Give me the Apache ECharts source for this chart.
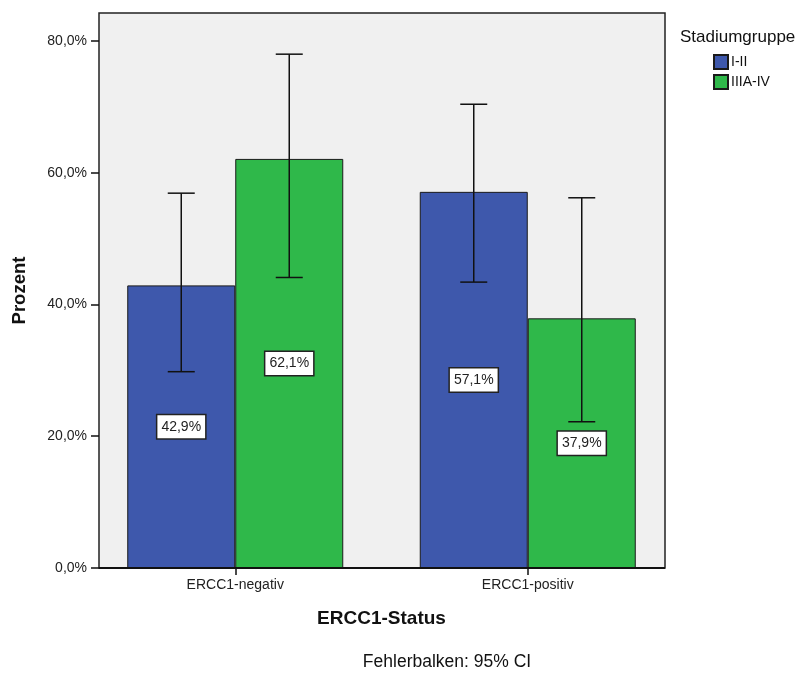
<!DOCTYPE html>
<html>
<head>
<meta charset="utf-8">
<script src="https://cdn.jsdelivr.net/npm/echarts@6/dist/echarts.min.js"></script>
<style>
html,body{margin:0;padding:0;background:#fff;}
#main{width:809px;height:673px;}
</style>
</head>
<body>
<div id="main"></div>
<script>
// Kategorien und Werte
var categories = ['ERCC1-negativ', 'ERCC1-positiv'];
var groupNames = ['I-II', 'IIIA-IV'];
var valuesI = [42.9, 57.1];
var valuesIII = [62.1, 37.9];
// 95% CI
var lowI = [29.8, 43.4];
var highI = [56.9, 70.4];
var lowIII = [44.1, 22.2];
var highIII = [78.0, 56.2];
var yTicks = [0, 20, 40, 60, 80];

var font = 'Liberation Sans, Arial, Helvetica, sans-serif';
var blue = '#3e58ac';
var green = '#2fb84a';

function fmt(v) {
    return v.toFixed(1).replace('.', ',') + '%';
}

function ciData(low, high) {
    var out = [];
    for (var i = 0; i < categories.length; i++) {
        out.push([i, low[i], high[i]]);
    }
    return out;
}

function errorBar(offset) {
    return function (params, api) {
        var lo = api.coord([api.value(0), api.value(1)]);
        var hi = api.coord([api.value(0), api.value(2)]);
        var x = lo[0] + offset;
        var cap = 13.5;
        var st = {stroke: '#111', lineWidth: 1.5};
        return {
            type: 'group',
            children: [
                {type: 'line', shape: {x1: x, y1: hi[1], x2: x, y2: lo[1]}, style: st},
                {type: 'line', shape: {x1: x - cap, y1: hi[1], x2: x + cap, y2: hi[1]}, style: st},
                {type: 'line', shape: {x1: x - cap, y1: lo[1], x2: x + cap, y2: lo[1]}, style: st}
            ]
        };
    };
}

var labelStyle = {
    show: true,
    position: 'inside',
    formatter: function (p) { return fmt(p.value); },
    backgroundColor: '#fff',
    borderColor: '#222',
    borderWidth: 1.5,
    padding: [5, 4, 4, 4],
    color: '#222',
    fontSize: 14,
    fontFamily: font
};

var myChart = echarts.init(document.getElementById('main'));
var option = {
    animation: false,
    backgroundColor: '#fff',
    title: [{
        text: 'Stadiumgruppe',
        left: 675, top: 24,
        textStyle: {fontSize: 17, fontWeight: 'normal', color: '#111', fontFamily: font}
    }, {
        text: 'Fehlerbalken: 95% CI',
        left: 442, top: 648, textAlign: 'center',
        textStyle: {fontSize: 17.5, fontWeight: 'normal', color: '#111', fontFamily: font}
    }],
    legend: {
        data: groupNames,
        orient: 'vertical',
        left: 708, top: 49,
        itemWidth: 14, itemHeight: 14, itemGap: 4,
        icon: 'rect',
        textStyle: {fontSize: 14, color: '#111', fontFamily: font, padding: [0, 0, 0, -2]}
    },
    graphic: [{
        type: 'rect',
        z: 0,
        shape: {x: 99, y: 13, width: 566, height: 555},
        style: {fill: '#f0f0f0', stroke: '#222', lineWidth: 1.5}
    }, {
        type: 'line',
        z: 50,
        shape: {x1: 99, y1: 568, x2: 665, y2: 568},
        style: {stroke: '#111', lineWidth: 2}
    }],
    grid: {left: 89, right: 135, top: 13, bottom: 105},
    xAxis: {
        type: 'category',
        data: categories,
        name: 'ERCC1-Status',
        nameLocation: 'middle',
        nameGap: 41,
        nameTextStyle: {fontSize: 19, fontWeight: 'bold', color: '#111', fontFamily: font},
        axisLine: {show: false},
        axisTick: {show: true, alignWithLabel: true, length: 7, lineStyle: {color: '#111', width: 1.5}},
        axisLabel: {fontSize: 14, color: '#222', fontFamily: font, margin: 10},
        splitLine: {show: false}
    },
    yAxis: {
        type: 'value',
        min: 0,
        max: 84.25,
        interval: 20,
        offset: -10,
        name: 'Prozent',
        nameLocation: 'middle',
        nameGap: 70,
        nameRotate: 90,
        nameTextStyle: {fontSize: 18.5, fontWeight: 'bold', color: '#111', fontFamily: font},
        axisLine: {show: false},
        axisTick: {show: true, length: 8, customValues: yTicks, lineStyle: {color: '#111', width: 1.5}},
        axisLabel: {
            fontSize: 14, color: '#222', fontFamily: font, margin: 12,
            customValues: yTicks,
            formatter: function (v) { return fmt(v); }
        },
        splitLine: {show: false}
    },
    series: [{
        name: groupNames[0],
        type: 'bar',
        data: valuesI,
        barWidth: 108,
        barGap: '0%',
        z: 3,
        itemStyle: {color: blue, borderColor: '#1a1a1a', borderWidth: 1},
        label: labelStyle
    }, {
        name: groupNames[1],
        type: 'bar',
        data: valuesIII,
        barWidth: 108,
        barGap: '0%',
        z: 3,
        itemStyle: {color: green, borderColor: '#1a1a1a', borderWidth: 1},
        label: labelStyle
    }, {
        type: 'custom',
        renderItem: errorBar(-54),
        data: ciData(lowI, highI),
        encode: {x: 0, y: [1, 2]},
        z: 10,
        silent: true
    }, {
        type: 'custom',
        renderItem: errorBar(54),
        data: ciData(lowIII, highIII),
        encode: {x: 0, y: [1, 2]},
        z: 10,
        silent: true
    }]
};
myChart.setOption(option);
</script>
</body>
</html>
